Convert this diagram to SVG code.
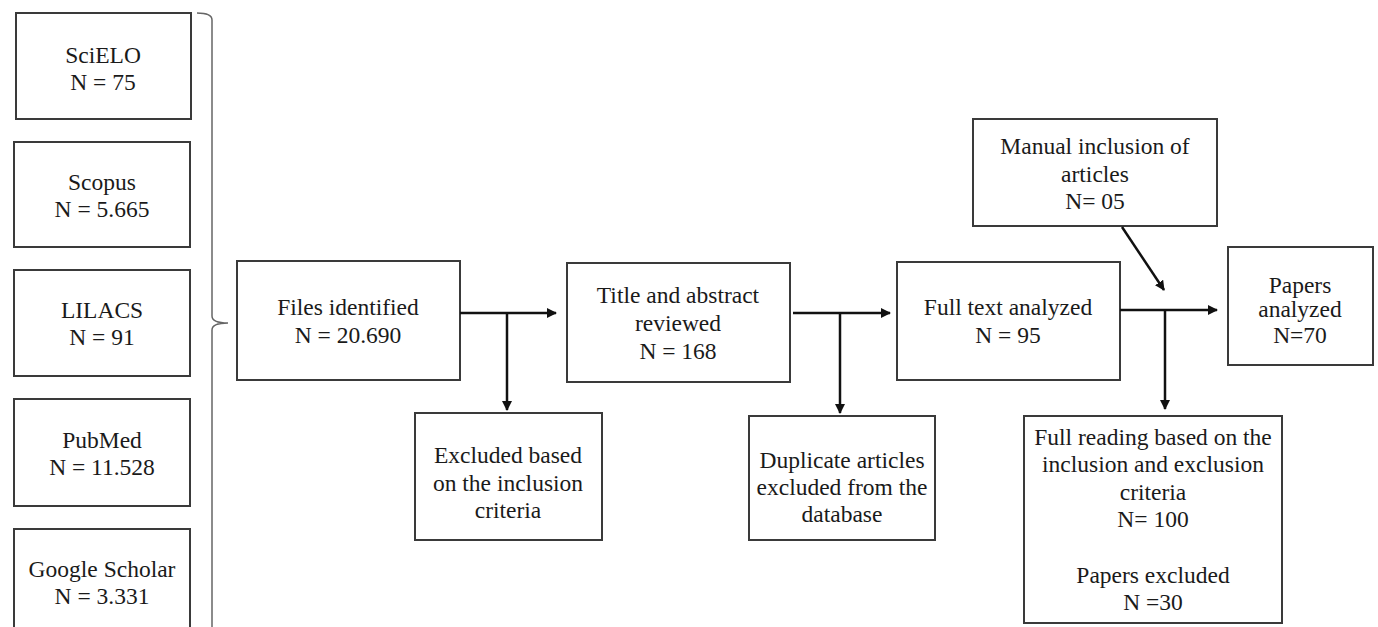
<svg xmlns="http://www.w3.org/2000/svg" width="1378" height="627" viewBox="0 0 1378 627">
<style>
.box{fill:#fff;stroke:#3a3a3a;stroke-width:2}
.t{font-family:"Liberation Serif","Times New Roman",serif;font-size:23.5px;fill:#1a1a1a;text-anchor:middle}
.c{fill:none;stroke:#111;stroke-width:2.5}
.br{fill:none;stroke:#666;stroke-width:1.5}
</style>
<defs>
<marker id="ah" viewBox="0 0 10 10" refX="9" refY="5" markerWidth="4" markerHeight="4" orient="auto" markerUnits="strokeWidth">
<path d="M0,0 L10,5 L0,10 z" fill="#111"/>
</marker>
</defs>
<rect width="1378" height="627" fill="#fff"/>
<g id="scielo"><rect class="box" x="16" y="13" width="175" height="106"/><text class="t" x="103" y="63">SciELO</text><text class="t" x="103" y="90">N = 75</text></g>
<g id="scopus"><rect class="box" x="14" y="142" width="176" height="105"/><text class="t" x="102" y="190">Scopus</text><text class="t" x="102" y="217">N = 5.665</text></g>
<g id="lilacs"><rect class="box" x="14" y="270" width="176" height="106"/><text class="t" x="102" y="318">LILACS</text><text class="t" x="102" y="345">N = 91</text></g>
<g id="pubmed"><rect class="box" x="14" y="399" width="176" height="107"/><text class="t" x="102" y="448">PubMed</text><text class="t" x="102" y="475">N = 11.528</text></g>
<g id="google"><rect class="box" x="14" y="529" width="176" height="110"/><text class="t" x="102" y="577">Google Scholar</text><text class="t" x="102" y="604">N = 3.331</text></g>
<g id="brace"><path class="br" d="M197,13 Q212,13 212,20 L212,316 Q212,323 228,323 Q212,323 212,330 L212,630"/></g>
<g id="files"><rect class="box" x="237" y="261" width="223" height="119"/><text class="t" x="348" y="315">Files identified</text><text class="t" x="348" y="343">N = 20.690</text></g>
<g id="excluded"><rect class="box" x="415" y="413" width="187" height="127"/><text class="t" x="508" y="463">Excluded based</text><text class="t" x="508" y="491">on the inclusion</text><text class="t" x="508" y="518">criteria</text></g>
<g id="title"><rect class="box" x="567" y="263" width="223" height="119"/><text class="t" x="678" y="303">Title and abstract</text><text class="t" x="678" y="331">reviewed</text><text class="t" x="678" y="359">N = 168</text></g>
<g id="duplicate"><rect class="box" x="749" y="416" width="186" height="124"/><text class="t" x="842" y="468">Duplicate articles</text><text class="t" x="842" y="495">excluded  from the</text><text class="t" x="842" y="522">database</text></g>
<g id="fulltext"><rect class="box" x="897" y="262" width="223" height="118"/><text class="t" x="1008" y="315">Full text analyzed</text><text class="t" x="1008" y="343">N = 95</text></g>
<g id="manual"><rect class="box" x="973" y="119" width="244" height="107"/><text class="t" x="1095" y="154">Manual inclusion of</text><text class="t" x="1095" y="182">articles</text><text class="t" x="1095" y="209">N= 05</text></g>
<g id="papers"><rect class="box" x="1228" y="247" width="145" height="118"/><text class="t" x="1300" y="293">Papers</text><text class="t" x="1300" y="317">analyzed</text><text class="t" x="1300" y="343">N=70</text></g>
<g id="fullreading"><rect class="box" x="1024" y="416" width="258" height="207"/><text class="t" x="1153" y="445">Full reading based on the</text><text class="t" x="1153" y="472">inclusion and exclusion</text><text class="t" x="1153" y="500">criteria</text><text class="t" x="1153" y="527">N= 100</text><text class="t" x="1153" y="583">Papers excluded</text><text class="t" x="1153" y="610">N =30</text></g>
<g id="connectors">
<path class="c" d="M460,313 L556,313" marker-end="url(#ah)"/>
<path class="c" d="M507,313 L507,410" marker-end="url(#ah)"/>
<path class="c" d="M793,313 L890,313" marker-end="url(#ah)"/>
<path class="c" d="M840,313 L840,413" marker-end="url(#ah)"/>
<path class="c" d="M1120,310 L1217,310" marker-end="url(#ah)"/>
<path class="c" d="M1165,310 L1165,409" marker-end="url(#ah)"/>
<path class="c" d="M1122,227 L1164,290" marker-end="url(#ah)"/>
</g>
</svg>
